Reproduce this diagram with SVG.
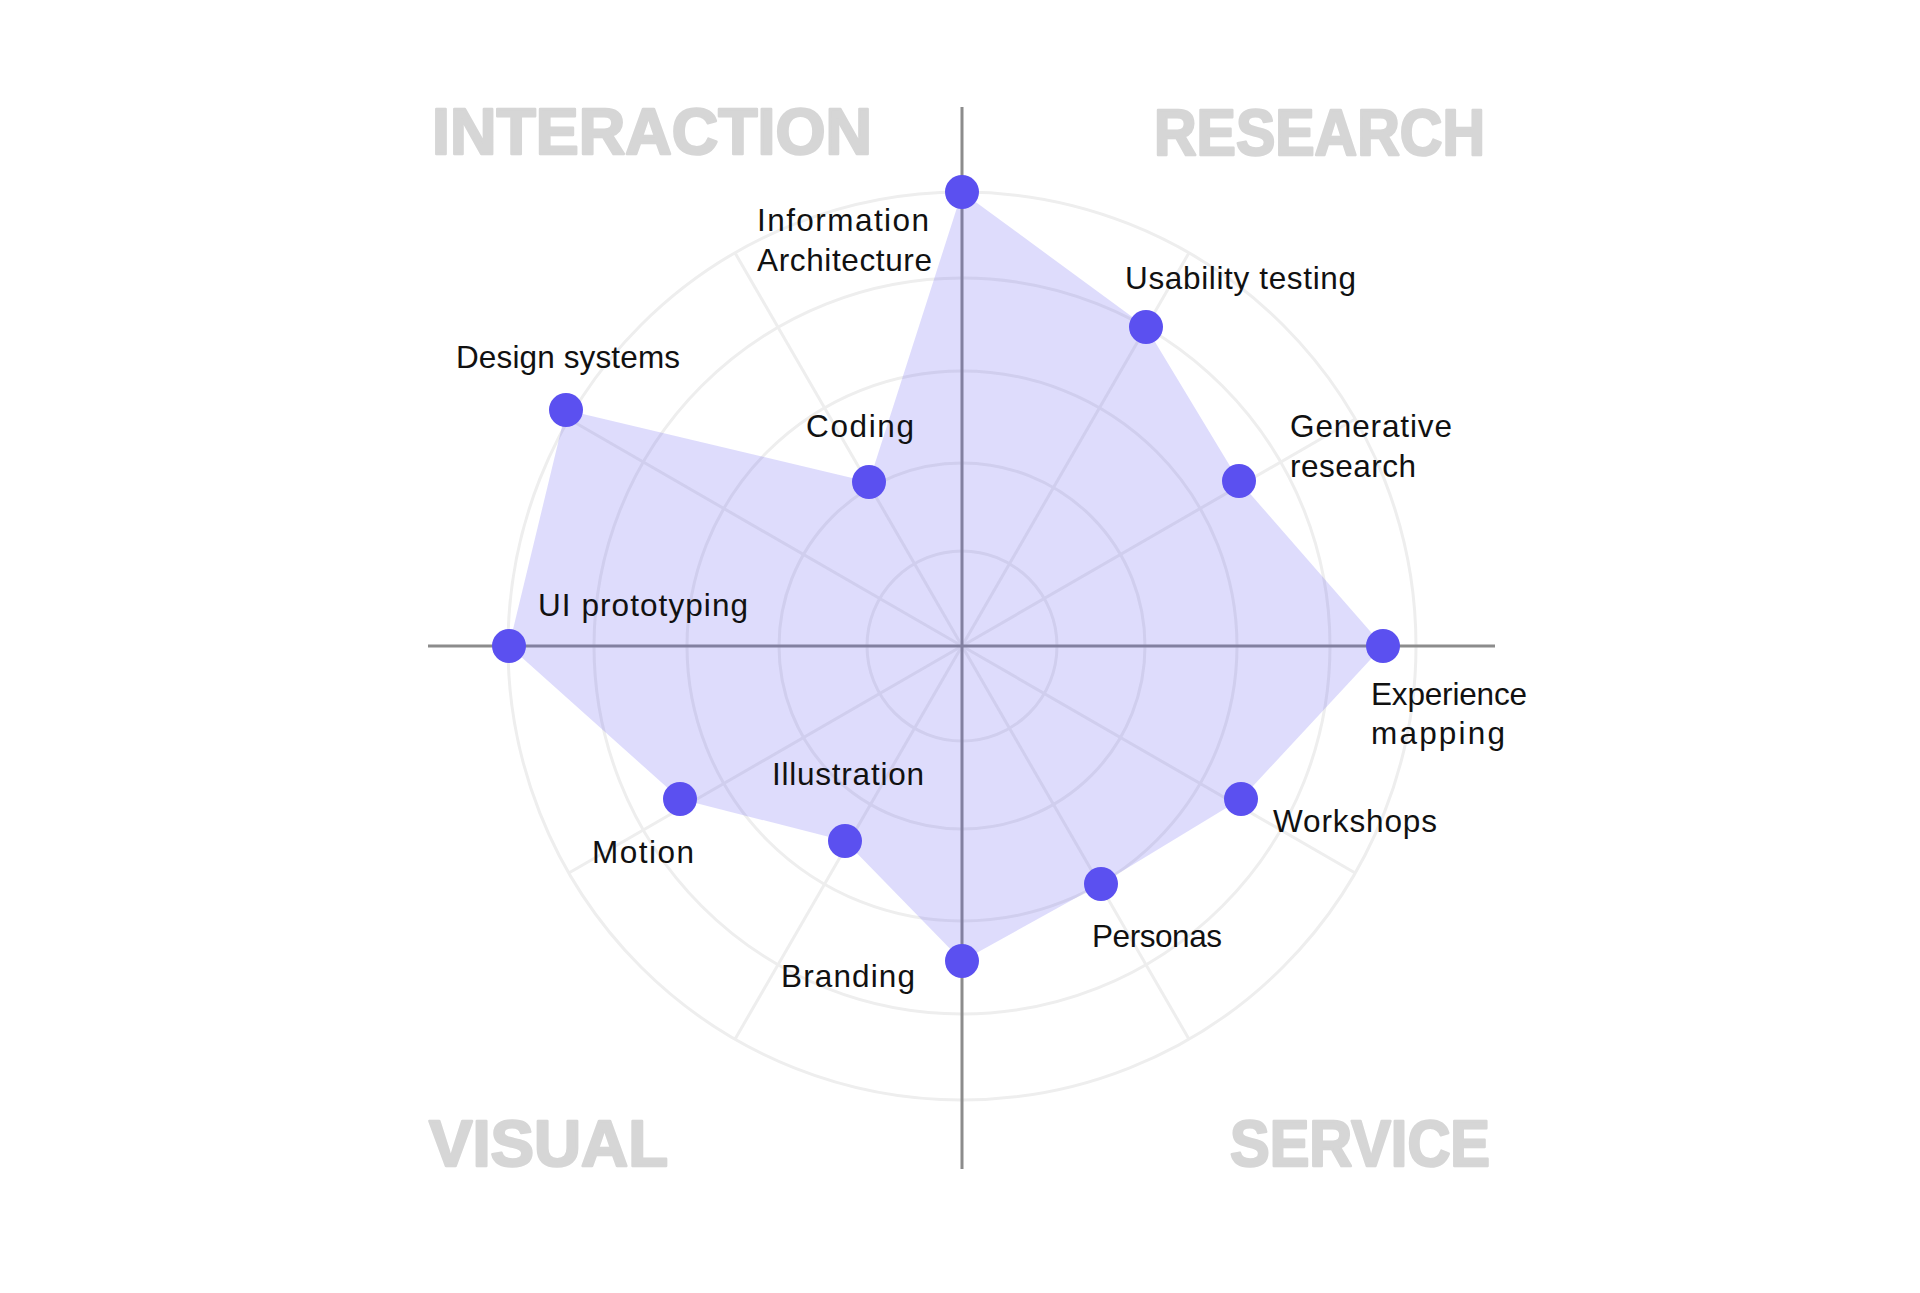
<svg xmlns="http://www.w3.org/2000/svg" width="1920" height="1293" viewBox="0 0 1920 1293">
<style>
.ring{fill:none;stroke:#eeeeee;stroke-width:3}
.spoke{stroke:#eeeeee;stroke-width:3}
.axis{stroke:#8c8c8c;stroke-width:3}
.area{fill:#5b50f0;fill-opacity:0.2}
.dot{fill:#5b50f0}
.lbl{font-family:"Liberation Sans",Arial,sans-serif;font-size:31.5px;fill:#111111}
.title{font-family:"Liberation Sans",Arial,sans-serif;font-size:65px;font-weight:bold;fill:#d6d6d6;stroke:#d6d6d6;stroke-width:2.5;stroke-linejoin:round}
</style>
<rect width="1920" height="1293" fill="#ffffff"/>
<g id="grid">
<circle class="ring" cx="962" cy="646" r="95"/>
<circle class="ring" cx="962" cy="646" r="183"/>
<circle class="ring" cx="962" cy="646" r="275"/>
<circle class="ring" cx="962" cy="646" r="368"/>
<circle class="ring" cx="962" cy="646" r="454"/>
<line class="spoke" x1="962" y1="646" x2="1355.2" y2="419"/>
<line class="spoke" x1="962" y1="646" x2="1189" y2="252.8"/>
<line class="spoke" x1="962" y1="646" x2="735" y2="252.8"/>
<line class="spoke" x1="962" y1="646" x2="568.8" y2="419"/>
<line class="spoke" x1="962" y1="646" x2="568.8" y2="873"/>
<line class="spoke" x1="962" y1="646" x2="735" y2="1039.2"/>
<line class="spoke" x1="962" y1="646" x2="1189" y2="1039.2"/>
<line class="spoke" x1="962" y1="646" x2="1355.2" y2="873"/>
</g>
<g id="axes">
<line class="axis" x1="428" y1="646" x2="1495" y2="646"/>
<line class="axis" x1="962" y1="107" x2="962" y2="1169"/>
</g>
<g id="connectors">
<polygon class="area" points="962,192 1146,327 1239,481 1383,646 1241,799 1101,884 962,961 845,841 680,799 509,646 566,410 869,482"/>
</g>
<g id="titles">
<text class="title" x="432" y="154" textLength="440" lengthAdjust="spacingAndGlyphs">INTERACTION</text>
<text class="title" x="1154" y="155" textLength="331" lengthAdjust="spacingAndGlyphs">RESEARCH</text>
<text class="title" x="429" y="1166" textLength="239" lengthAdjust="spacingAndGlyphs">VISUAL</text>
<text class="title" x="1230" y="1166" textLength="260" lengthAdjust="spacingAndGlyphs">SERVICE</text>
</g>
<g id="node-information-architecture">
<circle class="dot" cx="962" cy="192" r="17"/>
<text class="lbl" x="757" y="231" textLength="172">Information</text>
<text class="lbl" x="757" y="271" textLength="175">Architecture</text>
</g>
<g id="node-usability-testing">
<circle class="dot" cx="1146" cy="327" r="17"/>
<text class="lbl" x="1125" y="289" textLength="231">Usability testing</text>
</g>
<g id="node-generative-research">
<circle class="dot" cx="1239" cy="481" r="17"/>
<text class="lbl" x="1290" y="437" textLength="162">Generative</text>
<text class="lbl" x="1290" y="477" textLength="126">research</text>
</g>
<g id="node-experience-mapping">
<circle class="dot" cx="1383" cy="646" r="17"/>
<text class="lbl" x="1371" y="705" textLength="156">Experience</text>
<text class="lbl" x="1371" y="744" textLength="134">mapping</text>
</g>
<g id="node-workshops">
<circle class="dot" cx="1241" cy="799" r="17"/>
<text class="lbl" x="1273" y="832" textLength="164">Workshops</text>
</g>
<g id="node-personas">
<circle class="dot" cx="1101" cy="884" r="17"/>
<text class="lbl" x="1092" y="947" textLength="130">Personas</text>
</g>
<g id="node-branding">
<circle class="dot" cx="962" cy="961" r="17"/>
<text class="lbl" x="781" y="987" textLength="134">Branding</text>
</g>
<g id="node-illustration">
<circle class="dot" cx="845" cy="841" r="17"/>
<text class="lbl" x="772" y="785" textLength="152">Illustration</text>
</g>
<g id="node-motion">
<circle class="dot" cx="680" cy="799" r="17"/>
<text class="lbl" x="592" y="863" textLength="102">Motion</text>
</g>
<g id="node-ui-prototyping">
<circle class="dot" cx="509" cy="646" r="17"/>
<text class="lbl" x="538" y="616" textLength="210">UI prototyping</text>
</g>
<g id="node-design-systems">
<circle class="dot" cx="566" cy="410" r="17"/>
<text class="lbl" x="456" y="368" textLength="224">Design systems</text>
</g>
<g id="node-coding">
<circle class="dot" cx="869" cy="482" r="17"/>
<text class="lbl" x="806" y="437" textLength="108">Coding</text>
</g>
</svg>
